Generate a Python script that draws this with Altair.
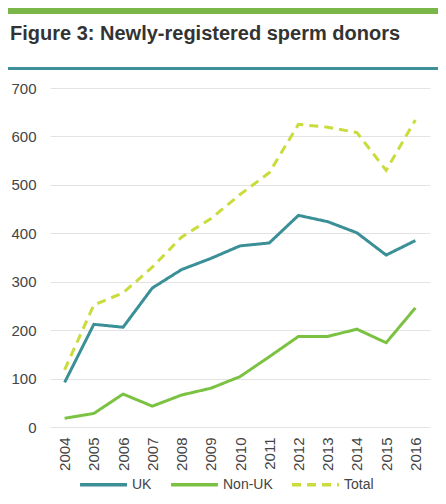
import altair as alt
import pandas as pd

years = [str(y) for y in range(2004, 2017)]
uk = [92, 212, 206, 287, 325, 348, 374, 380, 437, 424, 401, 355, 385]
non_uk = [18, 28, 68, 43, 66, 80, 104, 145, 187, 187, 202, 174, 246]
total = [118, 252, 277, 330, 392, 430, 480, 525, 625, 619, 608, 530, 634]
series = ["UK", "Non-UK", "Total"]
colors = ["#3a9096", "#7cc242", "#c9dc3c"]
dashes = [[1, 0], [1, 0], [9, 6]]
y_ticks = [0, 100, 200, 300, 400, 500, 600, 700]
title_text = "Figure 3: Newly-registered sperm donors"

FONT = "Liberation Sans"

rows = []
for name, vals in zip(series, [uk, non_uk, total]):
    for yr, v in zip(years, vals):
        rows.append({"year": yr, "value": v, "series": name})
df = pd.DataFrame(rows)
one = pd.DataFrame({"a": [0]})

W, H = 380, 339

top_bar = alt.Chart(one).mark_rect(color="#7ab648", clip=False).encode(
    x=alt.value(-42), x2=alt.value(400), y=alt.value(-80), y2=alt.value(-74)
)
sub_rule = alt.Chart(one).mark_rect(color="#3e8f97", clip=False).encode(
    x=alt.value(-42), x2=alt.value(400), y=alt.value(-21), y2=alt.value(-18)
)
title = alt.Chart(one).mark_text(
    text=title_text, align="left", baseline="alphabetic", font=FONT,
    fontSize=20, fontWeight="bold", color="#333333"
).encode(x=alt.value(-40), y=alt.value(-48))

legend = alt.Legend(title=None, orient="none", direction="horizontal",
                    legendX=28, legendY=371, symbolType="stroke",
                    symbolSize=2200, symbolStrokeWidth=3.5,
                    labelFontSize=14, labelColor="#444444",
                    labelFont=FONT, labelOffset=3, columnPadding=12,
                    padding=0)

lines = alt.Chart(df).mark_line(strokeWidth=3).encode(
    x=alt.X("year:O", sort=years, scale=alt.Scale(type="point", padding=0.5),
            axis=alt.Axis(title=None, labelAngle=270, domain=False, ticks=False,
                          labelPadding=10, labelFontSize=15, labelColor="#444444",
                          labelFont=FONT, grid=False)),
    y=alt.Y("value:Q", scale=alt.Scale(domain=[0, 700], nice=False),
            axis=alt.Axis(title=None, values=y_ticks, domain=False, ticks=False,
                          labelPadding=14, labelFontSize=15, labelColor="#444444",
                          labelFont=FONT, gridColor="#e3e3e3", gridWidth=1.2)),
    color=alt.Color("series:N", sort=series,
                    scale=alt.Scale(domain=series, range=colors),
                    legend=legend),
    strokeDash=alt.StrokeDash("series:N", sort=series,
                              scale=alt.Scale(domain=series, range=dashes),
                              legend=legend),
    detail="series:N",
)

chart = alt.layer(top_bar, sub_rule, title, lines).properties(
    width=W, height=H,
    autosize=alt.AutoSizeParams(type="none"),
    padding={"left": 42, "top": 80, "right": 8, "bottom": 69},
).configure_view(stroke=None)

chart.save("out.html", embed_options={"renderer": "svg", "actions": False})
